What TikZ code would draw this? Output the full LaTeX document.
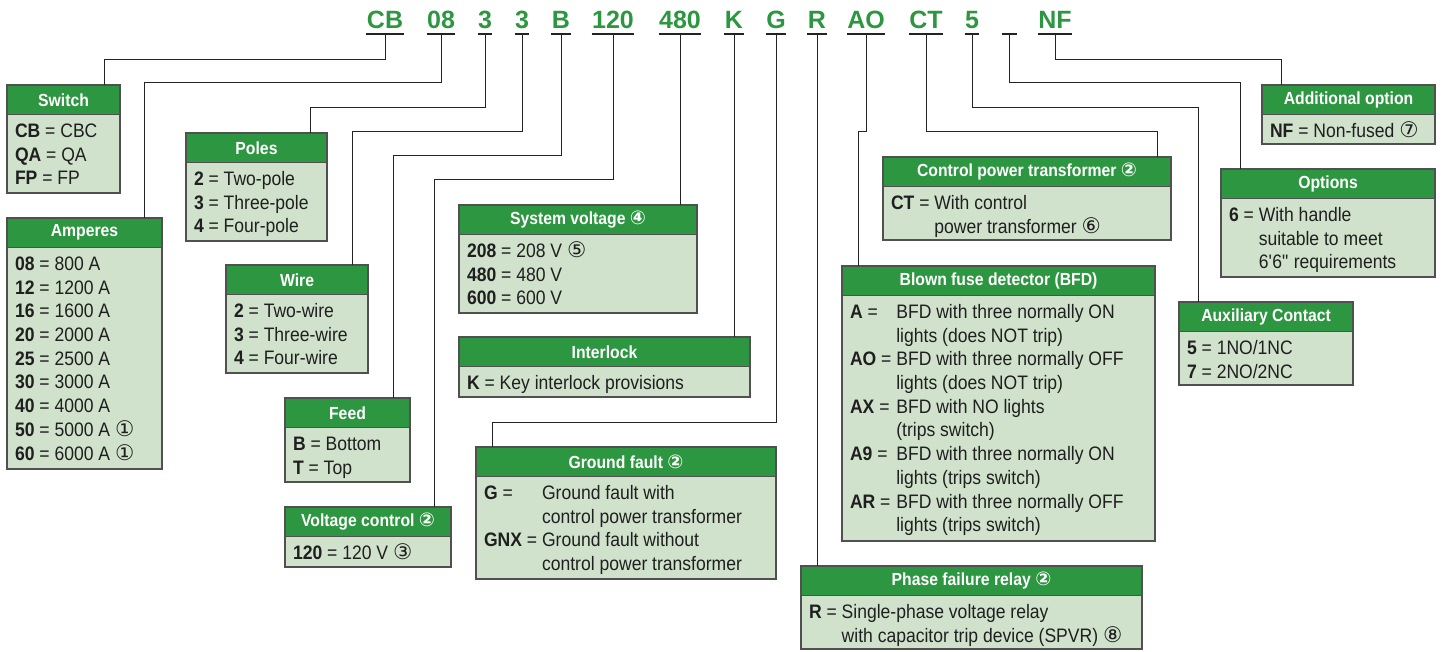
\documentclass[tikz,border=0pt]{standalone}
\usepackage{fontspec}
\setmainfont{Liberation Sans}[FakeStretch=0.9]
\newfontfamily\codefont{Liberation Sans}
\newfontfamily\circfont{DejaVu Sans}
\usetikzlibrary{calc}
\definecolor{hdrgreen}{RGB}{45,150,64}
\definecolor{bodyfill}{RGB}{208,226,204}
\definecolor{boxgray}{RGB}{80,80,80}
\definecolor{linegray}{RGB}{35,35,35}
\newcommand\ky[1]{\textbf{#1} =}
\newcommand\ci[1]{\smash{\circfont\fontsize{21.5}{21.5}\selectfont #1}}
\newcommand\ch[1]{\smash{\circfont\fontsize{19}{19}\selectfont #1}}
\tikzset{
  hdr/.style={draw=boxgray, line width=1.3pt, fill=hdrgreen, text=white,
    font=\bfseries\fontsize{17.5}{20}\selectfont, minimum height=29.5pt,
    inner sep=0pt, outer sep=0pt, anchor=north west},
  bodyrect/.style={draw=boxgray, line width=1.3pt, fill=bodyfill},
  bodytxt/.style={inner sep=0pt, outer sep=0pt, anchor=north west,
    font=\fontsize{19.5}{23.7}\selectfont, text=black!88},
  code/.style={anchor=base, inner sep=0pt, outer sep=0pt, text=hdrgreen,
    font=\codefont\bfseries\fontsize{25}{25}\selectfont},
  bar/.style={draw=linegray, line width=2pt},
  conn/.style={draw=linegray, line width=1pt},
}
\newcommand\cbox[7]{%
  \draw[bodyrect] (#2,#3) rectangle (#4,#5);
  \node[hdr, minimum width={#4-#2}] (#1) at (#2,#3) {#6};
  \node[bodytxt] (#1-t) at ($(#1.south west)+(8,6.4)$)
    {\begin{tabular}{@{}l@{\ }l@{}}#7\end{tabular}};
}
\begin{document}
\begin{tikzpicture}[x=1pt, y=-1pt]
\useasboundingbox (0,0) rectangle (1442,652);

% ---- code letters ----
\node[code] (cCB) at (385,28.3) {CB};
\node[code] (c08) at (441,28.3) {08};
\node[code] (cP)  at (485,28.3) {3};
\node[code] (cW)  at (522,28.3) {3};
\node[code] (cB)  at (561,28.3) {B};
\node[code] (cVC) at (613,28.3) {120};
\node[code] (cSV) at (680,28.3) {480};
\node[code] (cK)  at (734,28.3) {K};
\node[code] (cG)  at (776,28.3) {G};
\node[code] (cR)  at (817,28.3) {R};
\node[code] (cAO) at (866,28.3) {AO};
\node[code] (cCT) at (926,28.3) {CT};
\node[code] (c5)  at (972,28.3) {5};
\node[code, minimum width=14pt] (cBL) at (1009,28.3) {};
\node[code] (cNF) at (1055,28.3) {NF};

\foreach \c in {cCB,c08,cP,cW,cB,cVC,cSV,cK,cG,cR,cAO,cCT,c5,cBL,cNF}
  \draw[bar] ([xshift=-0.5pt]\c.west |- 0,34.3) -- ([xshift=0.5pt]\c.east |- 0,34.3);

% ---- boxes ----
\cbox{switch}{7}{85}{120}{193}{Switch}{\ky{CB} CBC &\\ \ky{QA} QA &\\ \ky{FP} FP &}
\cbox{amperes}{7}{218}{162}{469}{Amperes}{%
  \ky{08} & 800 A\\ \ky{12} & 1200 A\\ \ky{16} & 1600 A\\ \ky{20} & 2000 A\\
  \ky{25} & 2500 A\\ \ky{30} & 3000 A\\ \ky{40} & 4000 A\\
  \ky{50} & 5000 A \ci{①}\\ \ky{60} & 6000 A \ci{①}}
\cbox{poles}{186}{133}{327}{241}{Poles}{\ky{2} & Two-pole\\ \ky{3} & Three-pole\\ \ky{4} & Four-pole}
\cbox{wire}{226}{265}{368}{373}{Wire}{\ky{2} & Two-wire\\ \ky{3} & Three-wire\\ \ky{4} & Four-wire}
\cbox{feed}{285}{398}{410}{482}{Feed}{\ky{B} Bottom &\\ \ky{T} Top &}
\cbox{vc}{285}{507}{451}{567}{Voltage control \ch{②}}{\ky{120} & 120 V \ci{③}}
\cbox{sysv}{459}{205}{697}{313}{System voltage \ch{④}}{\ky{208} & 208 V \ci{⑤}\\ \ky{480} & 480 V\\ \ky{600} & 600 V}
\cbox{interlock}{459}{337}{750}{397}{Interlock}{\ky{K} & Key interlock provisions}
\cbox{gf}{476}{447}{776}{579}{Ground fault \ch{②}}{%
  \ky{G} & Ground fault with\\ & control power transformer\\
  \ky{GNX} & Ground fault without\\ & control power transformer}
\cbox{cpt}{883}{157}{1171}{240}{Control power transformer \ch{②}}{%
  \ky{CT} & With control\\ & power transformer \ci{⑥}}
\cbox{bfd}{842}{266}{1155}{541}{Blown fuse detector (BFD)}{%
  \ky{A} & BFD with three normally ON\\ & lights (does NOT trip)\\
  \ky{AO} & BFD with three normally OFF\\ & lights (does NOT trip)\\
  \ky{AX} & BFD with NO lights\\ & (trips switch)\\
  \ky{A9} & BFD with three normally ON\\ & lights (trips switch)\\
  \ky{AR} & BFD with three normally OFF\\ & lights (trips switch)}
\cbox{pfr}{801}{566}{1142}{649}{Phase failure relay \ch{②}}{%
  \ky{R} & Single-phase voltage relay\\ & with capacitor trip device (SPVR) \ci{⑧}}
\cbox{addopt}{1262}{85}{1435}{144}{Additional option}{\ky{NF} & Non-fused \ci{⑦}}
\cbox{options}{1221}{169}{1435}{277}{Options}{%
  \ky{6} & With handle\\ & suitable to meet\\ & 6\textquotesingle6\textquotedbl{} requirements}
\cbox{aux}{1179}{302}{1353}{385}{Auxiliary Contact}{\ky{5} & 1NO/1NC\\ \ky{7} & 2NO/2NC}

% ---- connectors ----
\draw[conn] (cCB |- 0,34.3) -- (cCB |- 0,60)  -| (104,0 |- switch.north);
\draw[conn] (c08 |- 0,34.3) -- (c08 |- 0,83)  -| (144,0 |- amperes.north);
\draw[conn] (cP  |- 0,34.3) -- (cP  |- 0,108) -| (310,0 |- poles.north);
\draw[conn] (cW  |- 0,34.3) -- (cW  |- 0,132) -| (352,0 |- wire.north);
\draw[conn] (cB  |- 0,34.3) -- (cB  |- 0,156) -| (393,0 |- feed.north);
\draw[conn] (cVC |- 0,34.3) -- (cVC |- 0,180) -| (434,0 |- vc.north);
\draw[conn] (cSV |- 0,34.3) -- (cSV |- sysv.north);
\draw[conn] (cK  |- 0,34.3) -- (cK  |- interlock.north);
\draw[conn] (cG  |- 0,34.3) -- (cG  |- 0,422) -| (492,0 |- gf.north);
\draw[conn] (cR  |- 0,34.3) -- (cR  |- pfr.north);
\draw[conn] (cAO |- 0,34.3) -- (cAO |- 0,132) -| (858,0 |- bfd.north);
\draw[conn] (cCT |- 0,34.3) -- (cCT |- 0,132) -| (1157,0 |- cpt.north);
\draw[conn] (c5  |- 0,34.3) -- (c5  |- 0,108) -| (1198,0 |- aux.north);
\draw[conn] (cBL |- 0,34.3) -- (cBL |- 0,83)  -| (1240,0 |- options.north);
\draw[conn] (cNF |- 0,34.3) -- (cNF |- 0,60)  -| (1281,0 |- addopt.north);
\end{tikzpicture}
\end{document}
